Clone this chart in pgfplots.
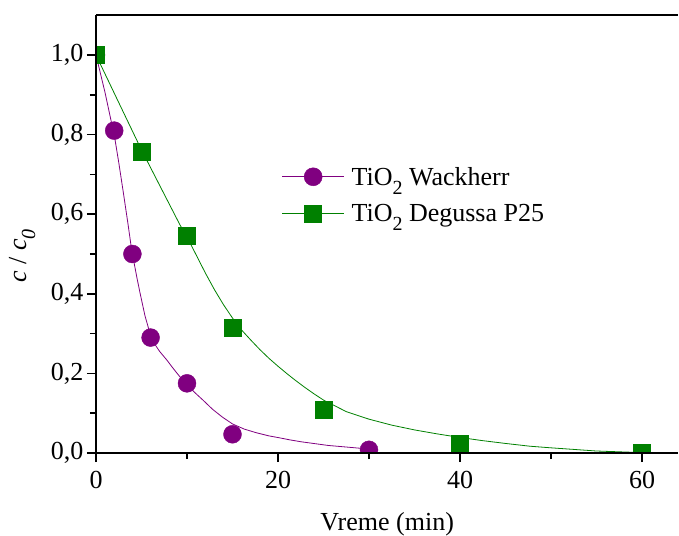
\documentclass[border=0pt]{standalone}
\usepackage{pgfplots}
\pgfplotsset{compat=1.18}
\usepackage{fontspec}
\setmainfont{Liberation Serif}
\definecolor{wpurple}{RGB}{128,0,128}
\definecolor{dgreen}{RGB}{0,128,0}
\newcommand\fs{\fontsize{26bp}{31bp}\selectfont}
\newcommand\sub[1]{\raisebox{-9bp}{\fontsize{20bp}{20bp}\selectfont #1}}
\begin{document}
\begin{tikzpicture}
\begin{axis}[
  at={(96bp,83bp)}, anchor=south west,
  scale only axis, width=582.4bp, height=437.8bp,
  xmin=0, xmax=64, ymin=0, ymax=1.1,
  axis x line=box, axis y line=left,
  axis line style={-, line width=1.5bp, black},
  tick pos=left, tick align=outside,
  major tick length=9bp, minor tick length=6bp,
  tick style={black, line width=1.5bp},
  xtick={0,20,40,60}, minor xtick={10,30,50},
  ytick={0,0.2,0.4,0.6,0.8,1.0}, minor ytick={0.1,0.3,0.5,0.7,0.9},
  /pgf/number format/assume math mode=true,
  yticklabel style={/pgf/number format/.cd, use comma, fixed, fixed zerofill, precision=1},
  xticklabel style={yshift=-6bp},
  tick label style={font=\fs},
  label style={font=\fs},
  xlabel={Vreme (min)},
  ylabel={\textit{c} / \textit{c}\sub{\textit{0}}},
  xlabel style={at={(axis description cs:0.5,0)}, anchor=base, yshift=-77bp, inner sep=0pt},
  ylabel style={at={(axis description cs:-0.127,0.45)}, anchor=center, inner sep=0pt},
  clip marker paths=true, axis on top=true,
  legend cell align=left,
  legend style={at={(axis description cs:0.319,0.589)}, anchor=west, draw=none, fill=none,
    inner sep=0pt, outer sep=0pt, font=\fs, column sep=7bp, row sep=18bp,
    nodes={inner sep=0pt}},
  legend image code/.code={\draw[mark repeat=2,mark phase=2,#1] plot coordinates {(0bp,0bp) (31bp,0bp) (62bp,0bp)};},
]
% fitted curves
\addplot[wpurple, line width=0.8bp, forget plot] coordinates {
(0,1.0) (1,0.905) (1.72,0.828) (2,0.80) (2.5,0.73) (3,0.655) (3.5,0.578) (3.92,0.51)
(4.25,0.47) (4.5,0.44) (4.84,0.402) (5.38,0.345) (6,0.295) (6.5,0.272) (7,0.255)
(7.77,0.234) (8.5,0.212) (9.2,0.192) (10,0.172) (10.8,0.153) (11.75,0.133) (12.8,0.11)
(13.9,0.09) (15,0.073) (16.3,0.06) (17.6,0.051) (19,0.043) (20.2,0.038) (21.3,0.033)
(22.6,0.028) (23.9,0.024) (25.5,0.019) (27,0.016) (28.5,0.013) (30,0.01)};
\addplot[dgreen, line width=0.8bp, forget plot] coordinates {
(0,1.0) (2.3,0.89) (4.65,0.778) (5.75,0.728) (7.5,0.65) (9.23,0.573) (10,0.543)
(11,0.498) (12,0.453) (13,0.411) (14,0.373) (15,0.339) (16,0.309) (17,0.284) (18,0.26)
(19,0.238) (20,0.218) (21,0.199) (22,0.181) (23,0.164) (24,0.148) (25,0.133) (27.5,0.104)
(30,0.085) (32.5,0.07) (35,0.058) (37.5,0.048) (40,0.039) (42.5,0.031) (45,0.024) (47.7,0.017)
(50,0.013) (52.5,0.009) (55,0.005) (57.5,0.003) (60,0.001)};
% data points
\addlegendimage{wpurple, line width=0.8bp, mark=*, mark size=9bp, mark options={fill=wpurple, draw=wpurple, line width=0.5bp}}
\addlegendentry{TiO\sub{2} Wackherr}
\addlegendimage{dgreen, line width=0.8bp, mark=square*, mark size=8.5bp, mark options={fill=dgreen, draw=dgreen, line width=0.5bp}}
\addlegendentry{TiO\sub{2} Degussa P25}
\addplot[only marks, mark=*, mark size=9bp, color=wpurple, fill=wpurple, forget plot] coordinates {
(0,1.0) (2,0.81) (4,0.50) (6,0.29) (10,0.175) (15,0.047) (30,0.008)};
\addplot[only marks, mark=square*, mark size=8.5bp, color=dgreen, fill=dgreen, forget plot] coordinates {
(0,1.0) (5,0.758) (10,0.546) (15,0.316) (25,0.11) (40,0.024) (60,0.002)};
\end{axis}
\pgfresetboundingbox
\path[use as bounding box] (0,0) rectangle (679bp,536bp);
\end{tikzpicture}
\end{document}
